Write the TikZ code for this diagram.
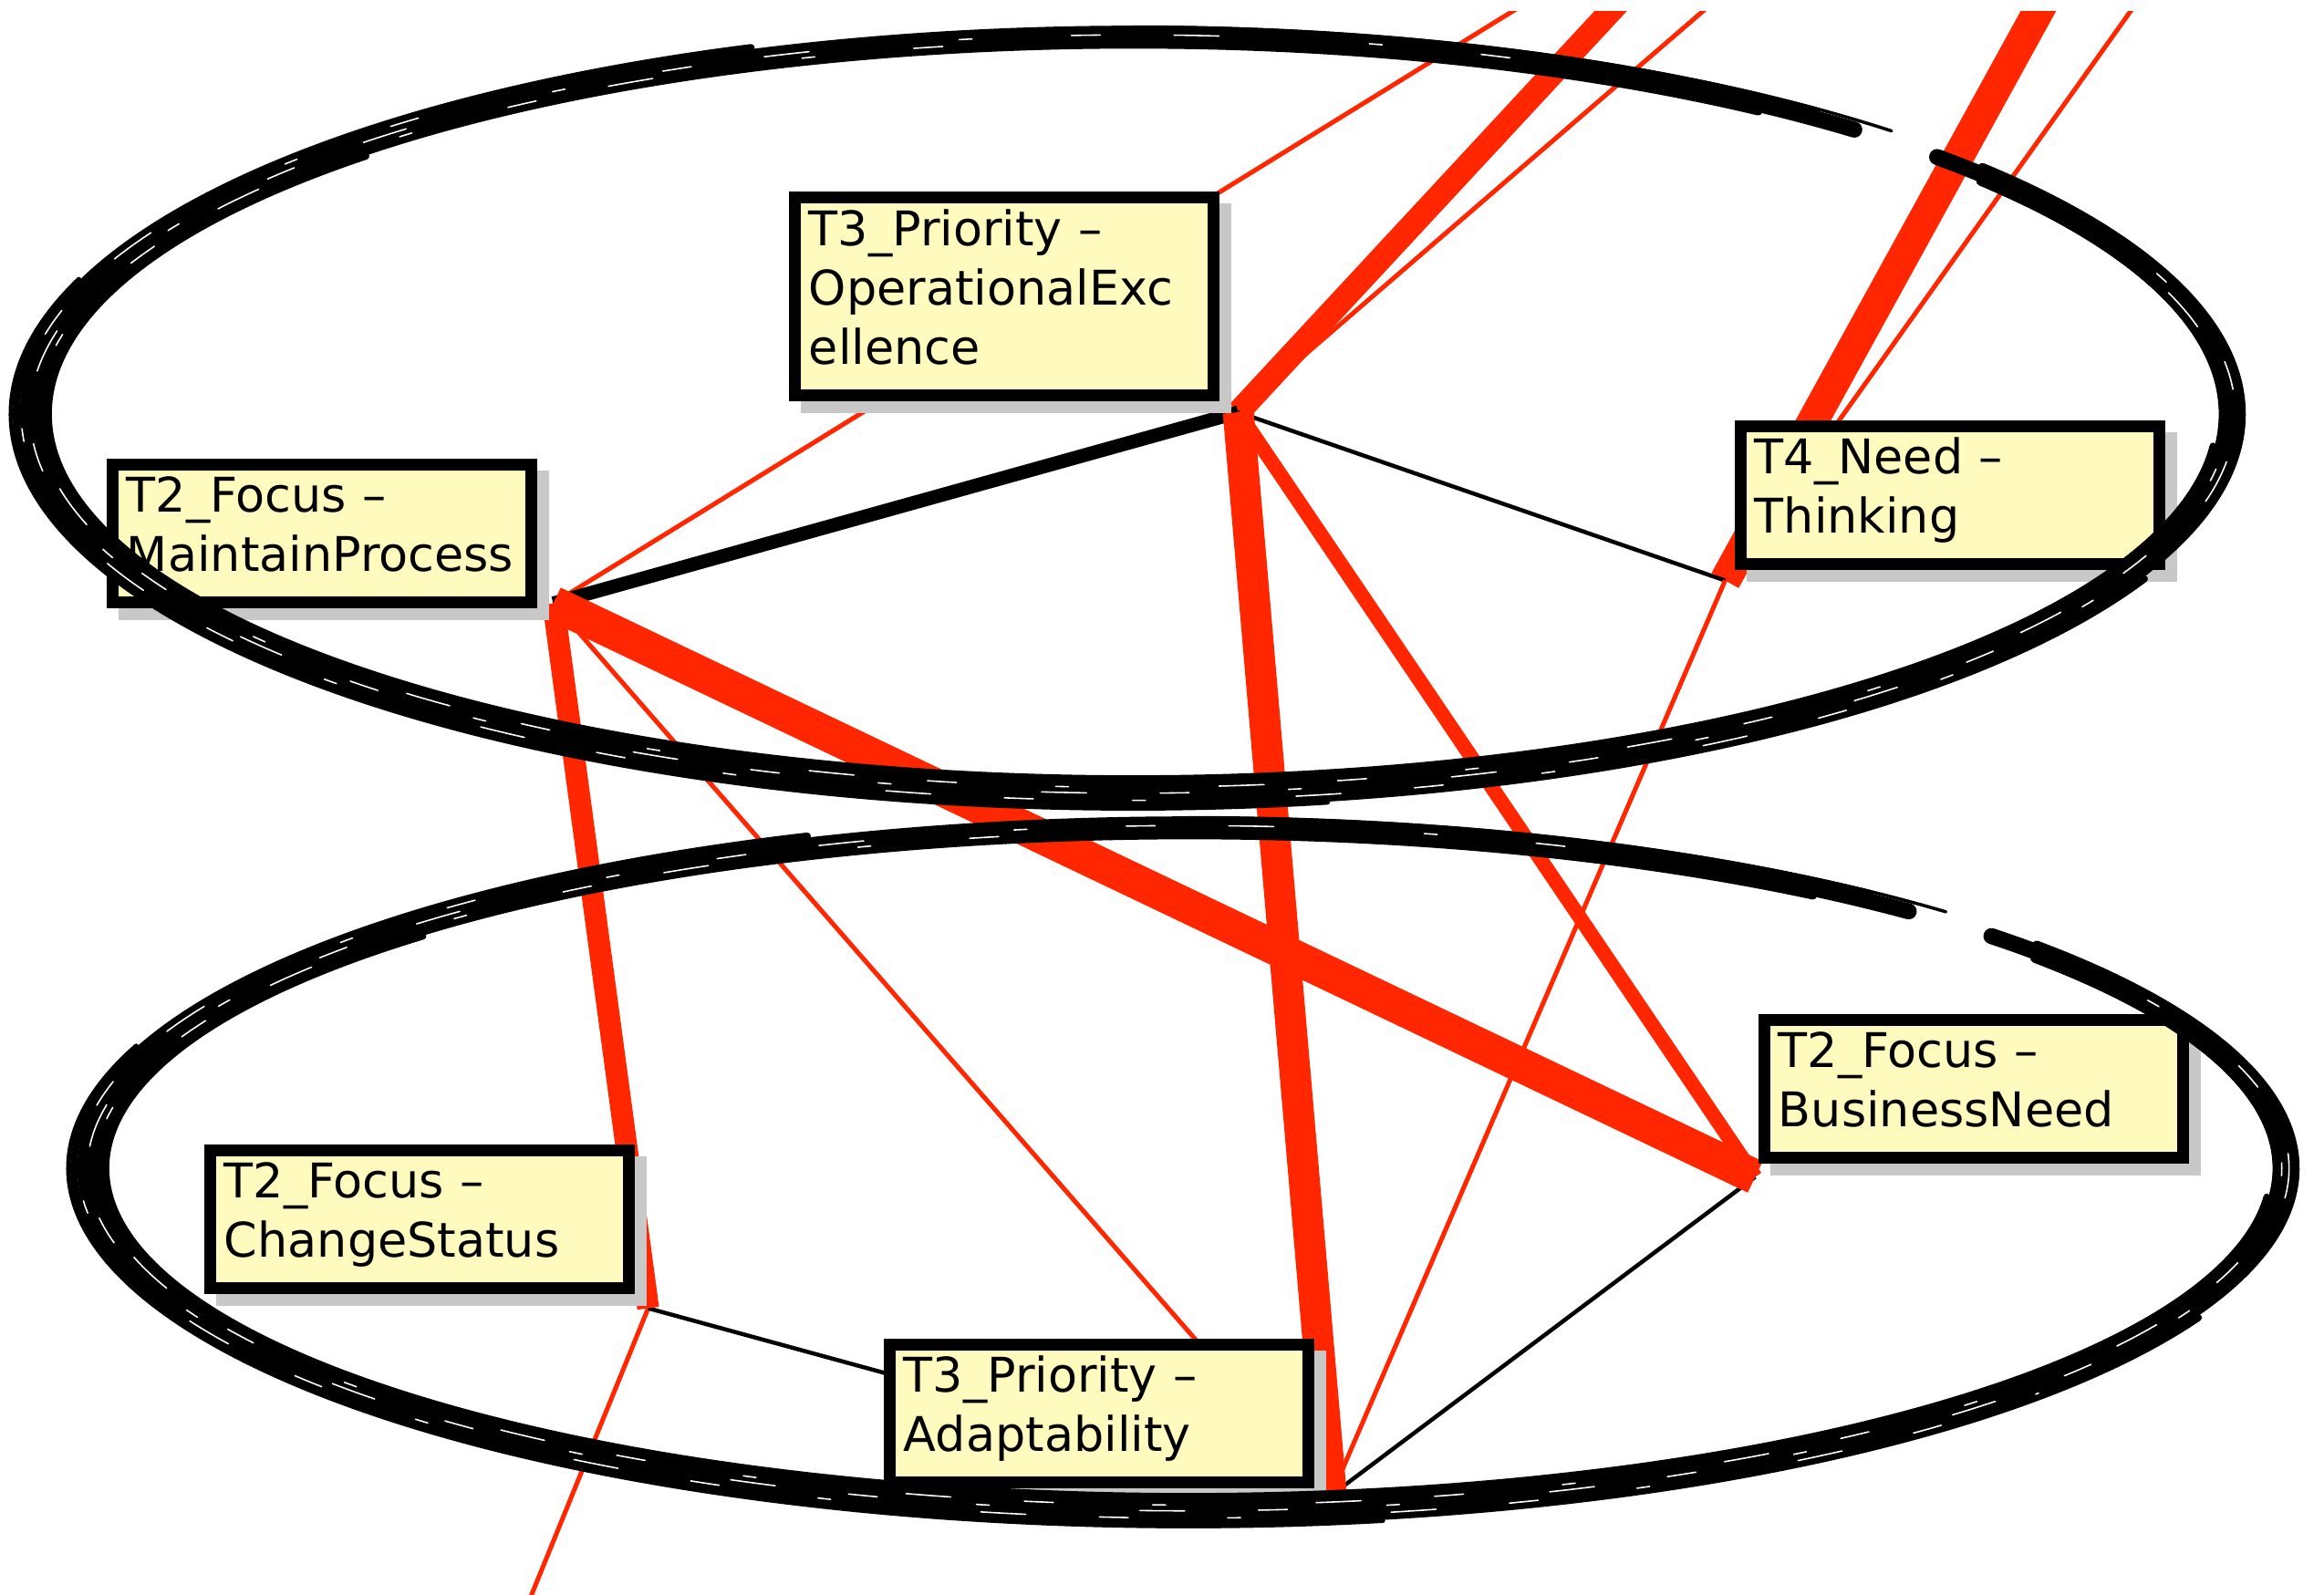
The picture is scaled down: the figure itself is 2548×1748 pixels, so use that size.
\documentclass[tikz,border=0pt]{standalone}
\usepackage{fontspec}
\usepackage{tikz}
\usetikzlibrary{
    calc,
    positioning,
    shadows,
    backgrounds
}
\newfontfamily\notefont{DejaVu Sans}
\definecolor{ink}{RGB}{0,0,0}
\definecolor{linkred}{RGB}{255,38,0}
\definecolor{notefill}{RGB}{255,251,190}
\definecolor{notedrop}{RGB}{200,200,200}
\tikzset{
    concept/.style={
        rectangle,
        draw=ink,
        line width=0.13cm,
        fill=notefill,
        text=ink,
        text width=4.28cm,
        minimum height=1.50cm,
        inner xsep=0.15cm,
        inner ysep=0pt,
        align=left,
        font=\notefont\fontsize{14.9pt}{18.5pt}\selectfont,
        execute at end node={\rule[-6pt]{0pt}{6pt}},
        drop shadow={shadow xshift=0.13cm, shadow yshift=-0.13cm,
            fill=notedrop, draw=notedrop, line width=0.13cm, opacity=1}
    },
    tallconcept/.style={
        concept,
        minimum height=2.17cm
    },
    redlink/.style={
        draw=linkred,
        line width=#1
    },
    redlink/.default=0.05cm,
    blacklink/.style={
        draw=ink,
        line width=#1
    },
    blacklink/.default=0.045cm,
    brush/.style={
        draw=ink,
        line cap=round,
        line join=round
    },
    streak/.style={
        draw=white,
        line width=0.45pt,
        line cap=round,
        dash pattern=on 9pt off 31pt on 4pt off 47pt on 14pt off 23pt
    }
}

% hand drawn cluster ring: centre x, centre y (px), x radius, y radius (cm)
\newcommand\brushring[4]{%
    \foreach \dr/\sa/\ea/\lw in {
        0/49/403/5pt,
        0.10/52/400/2.6pt,
        -0.10/55/399/2.6pt,
        0.06/60/300/2pt,
        -0.06/150/398/2pt,
        0.18/110/335/2.2pt,
        -0.17/135/355/2pt,
        0.24/160/280/1.4pt,
        0.14/47/90/1pt,
        -0.13/300/398/1.2pt}{
        \pgfmathsetlengthmacro\rxb{#3cm+(\dr cm)}
        \pgfmathsetlengthmacro\ryb{#4cm+(0.8*\dr cm)}
        \draw[brush, line width=\lw]
            ([shift={(\sa:{\rxb} and {\ryb})}]#1,#2)
            arc[start angle=\sa, end angle=\ea, x radius=\rxb, y radius=\ryb];
    }
    \foreach \dr/\sa/\ea in {0.03/70/390, -0.05/100/380, 0.13/130/320}{
        \pgfmathsetlengthmacro\rxb{#3cm+(\dr cm)}
        \pgfmathsetlengthmacro\ryb{#4cm+(0.8*\dr cm)}
        \draw[streak]
            ([shift={(\sa:{\rxb} and {\ryb})}]#1,#2)
            arc[start angle=\sa, end angle=\ea, x radius=\rxb, y radius=\ryb];
    }
}

\begin{document}
\begin{tikzpicture}[x=0.01cm, y=-0.01cm]
\useasboundingbox (0,0) rectangle (2548,1748);

% Concepts
\node[tallconcept] (opex) at (1101,325) {T3\_Priority –\\OperationalExc\\ellence};
\node[concept] (maint) at (353,585) {T2\_Focus –\\MaintainProcess};
\node[concept] (think) at (2138,543) {T4\_Need –\\Thinking};
\node[concept] (bizneed) at (2164,1194) {T2\_Focus –\\BusinessNeed};
\node[concept] (change) at (460,1337) {T2\_Focus –\\ChangeStatus};
\node[concept] (adapt) at (1205,1550) {T3\_Priority –\\Adaptability};

% Ports where the links meet
\coordinate (opexP) at ([shift={(21,12)}]opex.south east);
\coordinate (maintP) at ([shift={(18,-5)}]maint.south east);
\coordinate (thinkP) at ([shift={(-11,12)}]think.south west);
\coordinate (bizP) at ([shift={(-4,15)}]bizneed.south west);
\coordinate (changeP) at ([shift={(15,16)}]change.south east);
\coordinate (adaptP) at ([shift={(19,8)}]adapt.south east);

% Neighbours outside the frame
\coordinate (offA) at (1727,-30);
\coordinate (offB) at (1805,-30);
\coordinate (offC) at (1916,-30);
\coordinate (offD) at (2258,-30);
\coordinate (offE) at (2366,-30);
\coordinate (offF) at (566,1790);

% Links
\begin{scope}[on background layer]
    \clip (0,12) rectangle (2548,1748);
    \draw[redlink] (maintP) -- (offA);
    \draw[redlink=0.26cm] (opexP) -- (offB);
    \draw[redlink] (opexP) -- (offC);
    \draw[redlink=0.34cm] (thinkP) -- (offD);
    \draw[redlink] (thinkP) -- (offE);
    \draw[redlink] (changeP) -- (offF);

    \draw[blacklink=0.15cm] (maintP) -- (opexP);
    \draw[blacklink] (opexP) -- (thinkP);
    \draw[blacklink] (changeP) -- (adaptP);
    \draw[blacklink] (adaptP) -- (bizP);

    \draw[redlink=0.24cm] (maintP) -- (changeP);
    \draw[redlink=0.38cm] (maintP) -- (bizP);
    \draw[redlink] (maintP) -- (adaptP);
    \draw[redlink=0.34cm] (opexP) -- (adaptP);
    \draw[redlink=0.16cm] (opexP) -- (bizP);
    \draw[redlink] (adaptP) -- (thinkP);
\end{scope}

% Clusters
\brushring{1242}{454}{12.05}{4.13}
\brushring{1303}{1281}{12.03}{3.73}

\end{tikzpicture}
\end{document}
